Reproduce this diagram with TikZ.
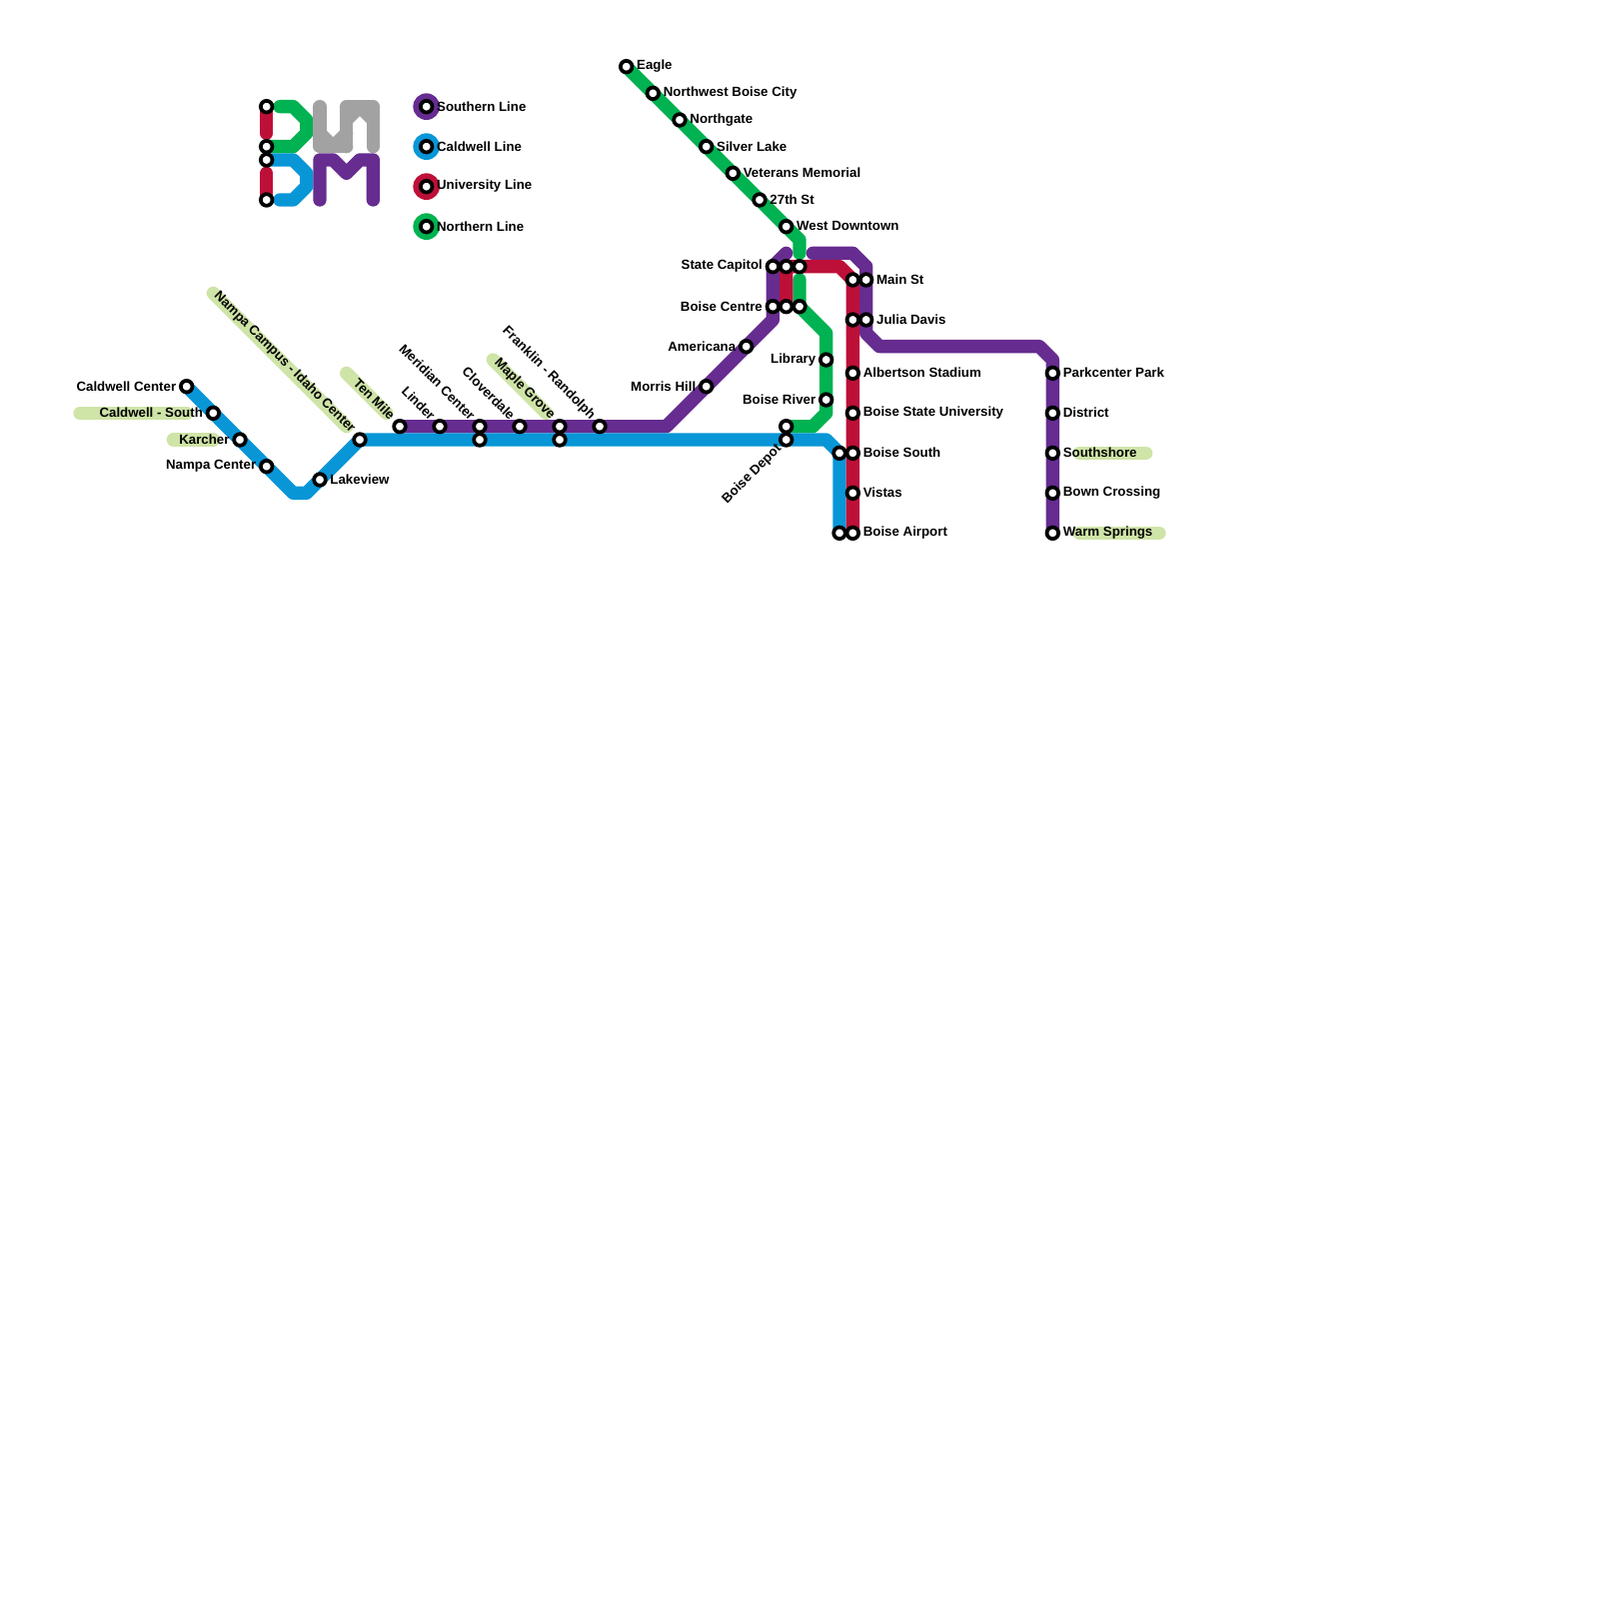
\documentclass[tikz,border=0pt]{standalone}
\usepackage{fontspec}
\setmainfont{Liberation Sans}
\usetikzlibrary{backgrounds}
\definecolor{lineSouth}{HTML}{662C90}
\definecolor{lineCald}{HTML}{0896D7}
\definecolor{lineUni}{HTML}{BD1038}
\definecolor{lineNorth}{HTML}{00B251}
\definecolor{lineGray}{HTML}{A2A2A2}
\definecolor{markGreen}{HTML}{CFE4A7}
\tikzset{
  metro/.style={line width=2mm, line cap=round, line join=round},
  south/.style={metro, color=lineSouth},
  cald/.style={metro, color=lineCald},
  uni/.style={metro, color=lineUni},
  north/.style={metro, color=lineNorth},
  logoGray/.style={metro, color=lineGray},
  marker/.style={metro, color=markGreen},
  station/.style={circle, draw=black, line width=0.56mm, fill=white, inner sep=0pt, minimum size=1.74mm},
  disc/.style={circle, inner sep=0pt, minimum size=4mm},
  txt/.style={inner sep=0pt, font=\bfseries\fontsize{5.67}{6}\selectfont, text=black},
  lblr/.style={txt, anchor=west, xshift=1.5mm, yshift=0.05mm},
  lbll/.style={txt, anchor=east, xshift=-1.5mm, yshift=0.05mm},
  lbld/.style={txt, anchor=east, rotate=-45, xshift=-1.62mm, yshift=0.22mm},
  lblu/.style={txt, anchor=east, rotate=45, xshift=-1.4mm, yshift=-0.03mm}
}

\begin{document}
\begin{tikzpicture}[x=2mm,y=-2mm]
  \useasboundingbox (0,0) rectangle (120,120);

  % Legend
  \node[disc, fill=lineSouth] (discSouth) at (32,8) {};
  \node[disc, fill=lineCald] (discCald) at (32,11) {};
  \node[disc, fill=lineUni] (discUni) at (32,14) {};
  \node[disc, fill=lineNorth] (discNorth) at (32,17) {};
  \node[station] (keySouth) at (32,8) {};
  \node[station] (keyCald) at (32,11) {};
  \node[station] (keyUni) at (32,14) {};
  \node[station] (keyNorth) at (32,17) {};
  \node[lblr] (keySouthT) at (keySouth) {Southern Line};
  \node[lblr] (keyCaldT) at (keyCald) {Caldwell Line};
  \node[lblr] (keyUniT) at (keyUni) {University Line};
  \node[lblr] (keyNorthT) at (keyNorth) {Northern Line};

  % Logo stations
  \node[station] (logoA) at (20,8) {};
  \node[station] (logoB) at (20,11) {};
  \node[station] (logoC) at (20,12) {};
  \node[station] (logoD) at (20,15) {};

  % Caldwell lane
  \node[station] (caldCenter) at (14,29) {};
  \node[station] (caldSouth) at (16,31) {};
  \node[station] (karcher) at (18,33) {};
  \node[station] (nampaCenter) at (20,35) {};
  \node[station] (lakeview) at (24,36) {};
  \node[station] (nampaCampus) at (27,33) {};
  \node[station] (meridianC) at (36,33) {};
  \node[station] (mapleC) at (42,33) {};
  \node[station] (depotC) at (59,33) {};
  \node[station] (southC) at (63,34) {};
  \node[station] (airportC) at (63,40) {};

  % Southern lane
  \node[station] (tenMile) at (30,32) {};
  \node[station] (linder) at (33,32) {};
  \node[station] (meridian) at (36,32) {};
  \node[station] (cloverdale) at (39,32) {};
  \node[station] (maple) at (42,32) {};
  \node[station] (franklin) at (45,32) {};
  \node[station] (morris) at (53,29) {};
  \node[station] (americana) at (56,26) {};
  \node[station] (centreS) at (58,23) {};
  \node[station] (capitolS) at (58,20) {};
  \node[station] (mainS) at (65,21) {};
  \node[station] (juliaS) at (65,24) {};
  \node[station] (parkcenter) at (79,28) {};
  \node[station] (district) at (79,31) {};
  \node[station] (southshore) at (79,34) {};
  \node[station] (bown) at (79,37) {};
  \node[station] (warm) at (79,40) {};

  % University lane
  \node[station] (centreU) at (59,23) {};
  \node[station] (capitolU) at (59,20) {};
  \node[station] (mainU) at (64,21) {};
  \node[station] (juliaU) at (64,24) {};
  \node[station] (albertson) at (64,28) {};
  \node[station] (boiseState) at (64,31) {};
  \node[station] (southU) at (64,34) {};
  \node[station] (vistas) at (64,37) {};
  \node[station] (airportU) at (64,40) {};

  % Northern lane
  \node[station] (eagle) at (47,5) {};
  \node[station] (nwBoise) at (49,7) {};
  \node[station] (northgate) at (51,9) {};
  \node[station] (silverLake) at (53,11) {};
  \node[station] (veterans) at (55,13) {};
  \node[station] (street27) at (57,15) {};
  \node[station] (westDown) at (59,17) {};
  \node[station] (capitolN) at (60,20) {};
  \node[station] (centreN) at (60,23) {};
  \node[station] (library) at (62,27) {};
  \node[station] (boiseRiver) at (62,30) {};
  \node[station] (depotN) at (59,32) {};

  % Bend points
  \coordinate (caldLow) at (22,37);
  \coordinate (caldUp) at (23,37);
  \coordinate (caldBend) at (62,33);
  \coordinate (southBend) at (50,32);
  \coordinate (southA) at (58,24);
  \coordinate (southB) at (59,19);
  \coordinate (southC1) at (61,19);
  \coordinate (southD) at (64,19);
  \coordinate (southE) at (65,20);
  \coordinate (southF) at (65,25);
  \coordinate (southG) at (66,26);
  \coordinate (southH) at (78,26);
  \coordinate (southI) at (79,27);
  \coordinate (uniA) at (63,20);
  \coordinate (northA) at (60,18);
  \coordinate (northB) at (60,19);
  \coordinate (northC) at (60,21);
  \coordinate (northD) at (62,25);
  \coordinate (northE) at (62,31);
  \coordinate (northF) at (61,32);

  % Logo bends
  \coordinate (lgA) at (20,10);
  \coordinate (lgB) at (20,13);
  \coordinate (lgC) at (21,8);
  \coordinate (lgD) at (22,8);
  \coordinate (lgE) at (23,9);
  \coordinate (lgF) at (23,10);
  \coordinate (lgG) at (22,11);
  \coordinate (lgH) at (22,12);
  \coordinate (lgI) at (23,13);
  \coordinate (lgJ) at (23,14);
  \coordinate (lgK) at (22,15);
  \coordinate (lgL) at (21,15);
  \coordinate (grA) at (24,8);
  \coordinate (grB) at (24,11);
  \coordinate (grC) at (26,11);
  \coordinate (grD) at (26,8);
  \coordinate (grE) at (28,8);
  \coordinate (grF) at (28,11);
  \coordinate (grG) at (24,10);
  \coordinate (grH) at (25,11);
  \coordinate (grI) at (26,10);
  \coordinate (grJ) at (26,9);
  \coordinate (grK) at (27,8);
  \coordinate (grL) at (28,9);
  \coordinate (puA) at (24,15);
  \coordinate (puB) at (24,12);
  \coordinate (puC) at (25,12);
  \coordinate (puD) at (26,13);
  \coordinate (puE) at (27,12);
  \coordinate (puF) at (28,12);
  \coordinate (puG) at (28,15);

  % Marker ends
  \coordinate (mkA1) at (16,22);
  \coordinate (mkA2) at (26,32);
  \coordinate (mkB1) at (26,28);
  \coordinate (mkB2) at (29,31);
  \coordinate (mkC1) at (6,31);
  \coordinate (mkC2) at (14,31);
  \coordinate (mkD1) at (13,33);
  \coordinate (mkD2) at (16,33);
  \coordinate (mkE1) at (37,27);
  \coordinate (mkE2) at (41,31);
  \coordinate (mkF1) at (81,34);
  \coordinate (mkF2) at (86,34);
  \coordinate (mkG1) at (81,40);
  \coordinate (mkG2) at (87,40);

  \begin{pgfonlayer}{background}
    % Markers under the lines
    \draw[marker] (mkA1) -- (mkA2);
    \draw[marker] (mkB1) -- (mkB2);
    \draw[marker] (mkC1) -- (mkC2);
    \draw[marker] (mkD1) -- (mkD2);
    \draw[marker] (mkE1) -- (mkE2);
    \draw[marker] (mkF1) -- (mkF2);
    \draw[marker] (mkG1) -- (mkG2);

    % Logo
    \draw[uni] (logoA.center) -- (lgA);
    \draw[uni] (lgB) -- (logoD.center);
    \draw[north] (lgC) -- (lgD) -- (lgE) -- (lgF) -- (lgG) -- (logoB.center);
    \draw[cald] (logoC.center) -- (lgH) -- (lgI) -- (lgJ) -- (lgK) -- (lgL);
    \draw[logoGray] (grA) -- (grB) -- (grC);
    \draw[logoGray] (grG) -- (grH) -- (grI);
    \draw[logoGray] (grC) -- (grD) -- (grE) -- (grF);
    \draw[logoGray] (grJ) -- (grK) -- (grL);
    \draw[south] (puA) -- (puB) -- (puC) -- (puD) -- (puE) -- (puF) -- (puG);

    % Lines
    \draw[north] (eagle.center) -- (northA) -- (northB);
    \draw[north] (northC) -- (centreN.center) -- (northD) -- (northE) -- (northF) -- (depotN.center);
    \draw[south] (tenMile.center) -- (southBend) -- (southA) -- (capitolS.center) -- (southB);
    \draw[south] (southC1) -- (southD) -- (southE) -- (southF) -- (southG) -- (southH) -- (southI) -- (warm.center);
    \draw[cald] (caldCenter.center) -- (caldLow) -- (caldUp) -- (nampaCampus.center) -- (caldBend) -- (southC.center) -- (airportC.center);
    \draw[uni] (centreU.center) -- (capitolU.center) -- (uniA) -- (mainU.center) -- (airportU.center);
  \end{pgfonlayer}

  % Labels to the right
  \node[lblr] (eagleT) at (eagle) {Eagle};
  \node[lblr] (nwBoiseT) at (nwBoise) {Northwest Boise City};
  \node[lblr] (northgateT) at (northgate) {Northgate};
  \node[lblr] (silverLakeT) at (silverLake) {Silver Lake};
  \node[lblr] (veteransT) at (veterans) {Veterans Memorial};
  \node[lblr] (street27T) at (street27) {27th St};
  \node[lblr] (westDownT) at (westDown) {West Downtown};
  \node[lblr] (mainT) at (mainS) {Main St};
  \node[lblr] (juliaT) at (juliaS) {Julia Davis};
  \node[lblr] (albertsonT) at (albertson) {Albertson Stadium};
  \node[lblr] (boiseStateT) at (boiseState) {Boise State University};
  \node[lblr] (southUT) at (southU) {Boise South};
  \node[lblr] (vistasT) at (vistas) {Vistas};
  \node[lblr] (airportT) at (airportU) {Boise Airport};
  \node[lblr] (parkcenterT) at (parkcenter) {Parkcenter Park};
  \node[lblr] (districtT) at (district) {District};
  \node[lblr] (southshoreT) at (southshore) {Southshore};
  \node[lblr] (bownT) at (bown) {Bown Crossing};
  \node[lblr] (warmT) at (warm) {Warm Springs};
  \node[lblr] (lakeviewT) at (lakeview) {Lakeview};

  % Labels to the left
  \node[lbll] (caldCenterT) at (caldCenter) {Caldwell Center};
  \node[lbll] (caldSouthT) at (caldSouth) {Caldwell - South};
  \node[lbll] (karcherT) at (karcher) {Karcher};
  \node[lbll] (nampaCenterT) at (nampaCenter) {Nampa Center};
  \node[lbll] (capitolT) at (capitolS) {State Capitol};
  \node[lbll] (centreT) at (centreS) {Boise Centre};
  \node[lbll] (americanaT) at (americana) {Americana};
  \node[lbll] (morrisT) at (morris) {Morris Hill};
  \node[lbll] (libraryT) at (library) {Library};
  \node[lbll] (boiseRiverT) at (boiseRiver) {Boise River};

  % Slanted labels
  \node[lbld] (nampaCampusT) at (nampaCampus) {Nampa Campus - Idaho Center};
  \node[lbld] (tenMileT) at (tenMile) {Ten Mile};
  \node[lbld] (linderT) at (linder) {Linder};
  \node[lbld] (meridianT) at (meridian) {Meridian Center};
  \node[lbld] (cloverdaleT) at (cloverdale) {Cloverdale};
  \node[lbld] (mapleT) at (maple) {Maple Grove};
  \node[lbld] (franklinT) at (franklin) {Franklin - Randolph};
  \node[lblu] (depotT) at (depotC) {Boise Depot};
\end{tikzpicture}
\end{document}
